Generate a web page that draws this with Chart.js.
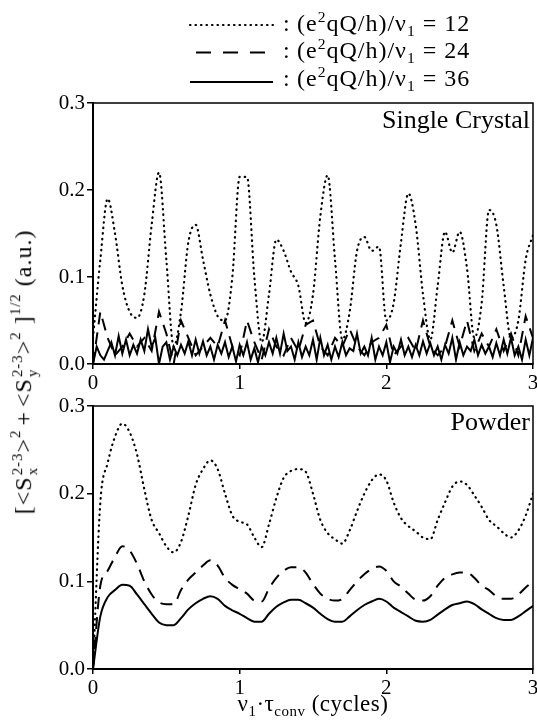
<!DOCTYPE html>
<html>
<head>
<meta charset="utf-8">
<script src="https://cdn.jsdelivr.net/npm/chart.js@4/dist/chart.umd.min.js"></script>
<style>
  html, body { margin: 0; padding: 0; background: #fff; }
  #wrap { position: relative; width: 537px; height: 723px; overflow: hidden; }
  canvas { position: absolute; left: 0; }
  #topChart { top: 0; }
  #bottomChart { top: 395px; }
  #ytitle {
    position: absolute; left: 25px; top: 372px;
    transform: translate(-50%, -50%) rotate(-90deg);
    white-space: nowrap; font: 24px "Liberation Serif", "Times New Roman", serif;
    letter-spacing: 1px; line-height: 1; color: #000;
  }
  #ytitle .st { display: inline-flex; flex-direction: column; font-size: 0.62em; line-height: 1; vertical-align: 0.62em; margin-left: 1px; }
  #ytitle sup { font-size: 0.62em; vertical-align: 0.75em; line-height: 0; }
  #ytitle .gap { margin: 0 4px; }
</style>
</head>
<body>
<div id="wrap">
  <canvas id="topChart" width="537" height="395"></canvas>
  <canvas id="bottomChart" width="537" height="328"></canvas>
  <div id="ytitle">[&lt;S<span class="st"><span>2-3</span><span>x</span></span>&gt;<sup>2</sup><span class="gap">+</span>&lt;S<span class="st"><span>2-3</span><span>y</span></span>&gt;<sup>2</sup> ]<sup>1/2</sup>  (a.u.)</div>
</div>
<script>
// e2qQ/h over nu1 for each curve
const ratios = [12, 24, 36];
const panelNames = ["Single Crystal", "Powder"];
const xTicks = [0, 1, 2, 3];
const yTicks = [0.0, 0.1, 0.2, 0.3];

// sample grids (cycles)
const x05 = Array.from({ length: 61 }, (_, i) => +(i * 0.05).toFixed(3));
const x025 = Array.from({ length: 121 }, (_, i) => +(i * 0.025).toFixed(3));

// single crystal
const crystal12 = [0.03,0.12,0.19,0.15,0.09,0.06,0.053,0.08,0.16,0.22,
  0.12,0.02,0.06,0.14,0.16,0.12,0.08,0.055,0.05,0.1,
  0.215,0.215,0.1,0.025,0.08,0.143,0.13,0.106,0.09,0.047,
  0.08,0.17,0.217,0.12,0.028,0.06,0.13,0.146,0.13,0.135,
  0.05,0.07,0.14,0.196,0.16,0.08,0.028,0.09,0.152,0.128,
  0.152,0.11,0.03,0.07,0.177,0.16,0.09,0.03,0.05,0.12,
  0.148];
const crystal24 = [0.0,0.06,0.03,0.01,0.02,0.035,0.02,0.03,0.015,0.06,
  0.035,0.0,0.05,0.03,0.01,0.02,0.03,0.02,0.05,0.02,
  0.01,0.05,0.025,0.005,0.04,0.02,0.01,0.03,0.015,0.045,
  0.05,0.02,0.01,0.03,0.02,0.04,0.02,0.01,0.025,0.03,
  0.045,0.01,0.02,0.03,0.015,0.05,0.02,0.01,0.02,0.05,
  0.02,0.05,0.015,0.035,0.02,0.04,0.015,0.035,0.01,0.055,
  0.03];
const crystal36 = [0.0,0.02,0.01,0.005,0.015,0.025,0.01,0.032,0.012,0.028,
  0.01,0.022,0.012,0.028,0.015,0.04,0.02,0.03,0.0,0.02,
  0.025,0.005,0.02,0.01,0.022,0.012,0.026,0.01,0.028,0.012,
  0.026,0.01,0.02,0.005,0.022,0.012,0.025,0.008,0.02,0.003,
  0.022,0.01,0.025,0.005,0.018,0.002,0.02,0.01,0.025,0.012,
  0.03,0.012,0.035,0.015,0.02,0.005,0.025,0.008,0.02,0.01,
  0.028,0.005,0.03,0.01,0.022,0.005,0.02,0.008,0.025,0.01,
  0.018,0.015,0.035,0.012,0.02,0.01,0.03,0.005,0.02,0.01,
  0.025,0.002,0.02,0.012,0.028,0.01,0.02,0.008,0.022,0.01,
  0.026,0.012,0.024,0.01,0.02,0.005,0.022,0.012,0.03,0.005,
  0.025,0.01,0.02,0.015,0.028,0.01,0.022,0.012,0.02,0.008,
  0.024,0.01,0.028,0.012,0.03,0.01,0.02,0.005,0.028,0.01,
  0.03];

// powder
const powder12 = [0,0.19,0.235,0.265,0.28,0.27,0.245,0.205,0.17,0.155,
  0.14,0.133,0.145,0.175,0.21,0.228,0.238,0.228,0.2,0.175,
  0.168,0.165,0.15,0.139,0.165,0.195,0.218,0.226,0.228,0.225,
  0.2,0.17,0.155,0.148,0.143,0.158,0.18,0.2,0.215,0.222,
  0.215,0.19,0.172,0.163,0.157,0.15,0.148,0.17,0.19,0.208,
  0.214,0.21,0.198,0.185,0.17,0.163,0.155,0.15,0.158,0.175,
  0.2];
const powder24 = [0,0.095,0.112,0.128,0.14,0.135,0.12,0.1,0.085,0.076,
  0.074,0.074,0.09,0.102,0.11,0.118,0.124,0.118,0.104,0.096,
  0.091,0.086,0.078,0.077,0.092,0.104,0.112,0.116,0.116,0.11,
  0.097,0.086,0.08,0.078,0.08,0.09,0.1,0.108,0.114,0.117,
  0.112,0.1,0.094,0.086,0.079,0.078,0.083,0.095,0.104,0.108,
  0.11,0.11,0.104,0.095,0.09,0.083,0.08,0.08,0.085,0.093,
  0.1];
const powder36 = [0,0.06,0.082,0.09,0.096,0.095,0.085,0.074,0.063,0.053,
  0.05,0.05,0.058,0.068,0.075,0.08,0.083,0.08,0.072,0.067,
  0.063,0.058,0.054,0.054,0.063,0.071,0.076,0.079,0.079,0.075,
  0.07,0.063,0.057,0.054,0.054,0.06,0.067,0.073,0.077,0.08,
  0.077,0.07,0.065,0.06,0.055,0.054,0.056,0.062,0.068,0.073,
  0.075,0.077,0.074,0.068,0.063,0.058,0.056,0.056,0.06,0.066,
  0.072];

const SERIF = '"Liberation Serif", "Times New Roman", serif';
const styles = [
  { borderDash: [0.5, 5], borderWidth: 2.2, borderCapStyle: "round" },
  { borderDash: [12, 8], borderWidth: 2, borderCapStyle: "butt" },
  { borderDash: [], borderWidth: 2, borderCapStyle: "butt" },
];

function pts(xs, ys) {
  return ys.map((y, i) => ({ x: xs[i], y: y }));
}

function line(i, data, smooth) {
  return Object.assign({
    data: data,
    borderColor: "#000",
    pointRadius: 0,
    fill: false,
    tension: smooth ? 0.4 : 0,
    cubicInterpolationMode: smooth ? "monotone" : "default",
  }, styles[i]);
}

// text with sub/superscripts on a canvas
function drawRich(ctx, parts, x, y, size, align, spacing) {
  const fontFor = p => (p.s ? size * 0.65 : size) + "px " + SERIF;
  ctx.save();
  ctx.letterSpacing = (spacing || 0) + "px";
  const widthOf = p => { ctx.font = fontFor(p); return ctx.measureText(p.t).width; };
  const total = parts.reduce((w, p) => w + widthOf(p), 0);
  let cx = align === "center" ? x - total / 2 : align === "right" ? x - total : x;
  ctx.textAlign = "left";
  ctx.textBaseline = "alphabetic";
  ctx.fillStyle = "#000";
  parts.forEach(p => {
    const w = widthOf(p);
    const dy = p.s === "sup" ? -size * 0.38 : p.s === "sub" ? size * 0.22 : 0;
    ctx.font = fontFor(p);
    ctx.fillText(p.t, cx, y + dy);
    cx += w;
  });
  ctx.restore();
}

const framePlugin = {
  id: "frame",
  afterDatasetsDraw(chart) {
    const a = chart.chartArea, ctx = chart.ctx;
    ctx.save();
    ctx.strokeStyle = "#000";
    ctx.lineWidth = 1.5;
    ctx.strokeRect(a.left, a.top, a.right - a.left, a.bottom - a.top);
    ctx.restore();
  },
};

function panelLabel(text, baseline) {
  return {
    id: "panelLabel",
    afterDraw(chart) {
      const ctx = chart.ctx;
      ctx.save();
      ctx.font = "26px " + SERIF;
      ctx.fillStyle = "#000";
      ctx.textAlign = "right";
      ctx.textBaseline = "alphabetic";
      ctx.fillText(text, chart.chartArea.right - 3, baseline);
      ctx.restore();
    },
  };
}

const legendPlugin = {
  id: "ratioLegend",
  afterDraw(chart) {
    const ctx = chart.ctx;
    const lineY = [25, 52.5, 82];
    const textY = [31, 58, 86];
    ratios.forEach((r, i) => {
      const st = styles[i];
      ctx.save();
      ctx.strokeStyle = "#000";
      ctx.lineWidth = st.borderWidth;
      ctx.lineCap = st.borderCapStyle;
      ctx.setLineDash(i === 1 ? [15, 12] : st.borderDash);
      ctx.beginPath();
      ctx.moveTo(i === 1 ? 196 : 190, lineY[i]);
      ctx.lineTo(273, lineY[i]);
      ctx.stroke();
      ctx.restore();
      drawRich(ctx, [{ t: ":" }], 283, textY[i], 24, "left");
      drawRich(ctx, [
        { t: "(e" }, { t: "2", s: "sup" }, { t: "qQ/h)/\u03bd" }, { t: "1", s: "sub" },
        { t: " = " + r },
      ], 297, textY[i], 24, "left", 1);
    });
  },
};

function xTitle(baseline) {
  return {
    id: "xTitle",
    afterDraw(chart) {
      const a = chart.chartArea;
      drawRich(chart.ctx, [
        { t: "\u03bd" }, { t: "1", s: "sub" }, { t: "\u00b7\u03c4" }, { t: "conv", s: "sub" },
        { t: " (cycles)" },
      ], (a.left + a.right) / 2, baseline, 23, "center", 0.5);
    },
  };
}

function options(padTop, xHeight) {
  return {
    responsive: false,
    animation: false,
    layout: { padding: { top: padTop, right: 4, left: 0, bottom: 0 } },
    plugins: { legend: { display: false }, tooltip: { enabled: false } },
    scales: {
      x: {
        type: "linear", min: xTicks[0], max: xTicks[xTicks.length - 1],
        afterBuildTicks: s => { s.ticks = xTicks.map(v => ({ value: v })); },
        afterFit: s => { s.height = xHeight; s.paddingLeft = 0; s.paddingRight = 0; },
        ticks: { color: "#000", font: { family: SERIF, size: 21 }, padding: 2, maxRotation: 0,
          callback: v => String(v) },
        grid: { drawOnChartArea: false, drawTicks: true, tickLength: 5, color: "#000", lineWidth: 1.5 },
        border: { display: true, color: "#000", width: 2 },
      },
      y: {
        type: "linear", min: yTicks[0], max: yTicks[yTicks.length - 1],
        afterBuildTicks: s => { s.ticks = yTicks.map(v => ({ value: v })); },
        afterFit: s => { s.width = 93; s.paddingTop = 0; s.paddingBottom = 0; },
        ticks: { color: "#000", font: { family: SERIF, size: 21 }, padding: 2,
          callback: v => Number(v).toFixed(1) },
        grid: { drawOnChartArea: false, drawTicks: true, tickLength: 6, color: "#000", lineWidth: 1.5 },
        border: { display: true, color: "#000", width: 2 },
      },
    },
  };
}

new Chart(document.getElementById("topChart"), {
  type: "line",
  data: {
    datasets: [
      line(0, pts(x05, crystal12), true),
      line(1, pts(x05, crystal24), false),
      line(2, pts(x025, crystal36), false),
    ],
  },
  options: options(103, 31),
  plugins: [framePlugin, panelLabel(panelNames[0], 128), legendPlugin],
});

new Chart(document.getElementById("bottomChart"), {
  type: "line",
  data: {
    datasets: [
      line(0, pts(x05, powder12), true),
      line(1, pts(x05, powder24), true),
      line(2, pts(x05, powder36), true),
    ],
  },
  options: options(11, 54),
  plugins: [framePlugin, panelLabel(panelNames[1], 35), xTitle(711 - 395)],
});
</script>
</body>
</html>
